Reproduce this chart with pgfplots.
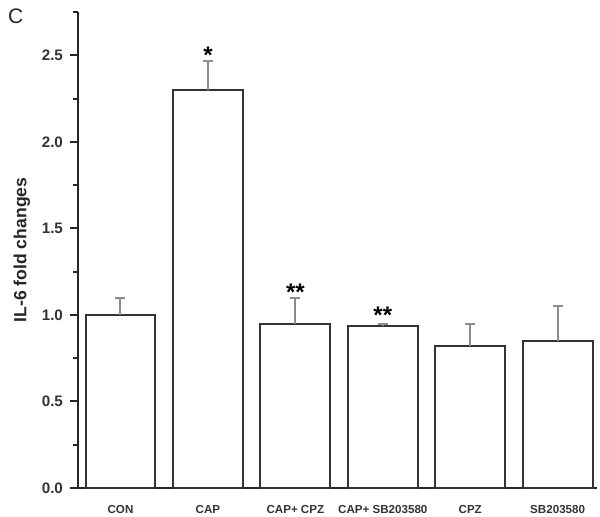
\documentclass[border=0pt]{standalone}
\usepackage{pgfplots}
\pgfplotsset{compat=1.18}
\usepackage{fontspec}
\setmainfont{Liberation Sans}
\begin{document}
\begin{tikzpicture}
\begin{axis}[
  at={(0,0)}, anchor=south west,
  scale only axis, width=259.5pt, height=238pt,
  xmin=-0.486, xmax=5.45, ymin=0, ymax=2.75,
  axis x line=bottom, axis y line=left,
  axis line style={line width=1.3pt, draw=black!85, -},
  xtick={0,1,2,3,4,5},
  xticklabels={CON,CAP,CAP+ CPZ,CAP+ SB203580,CPZ,SB203580},
  major x tick style={draw=none},
  x tick label style={font=\fontsize{5.8}{6}\selectfont\bfseries, color=black!80, yshift=-1pt},
  ytick={0,0.5,1,1.5,2,2.5},
  minor ytick={0.25,0.75,1.25,1.75,2.25,2.75},
  tick align=outside,
  major tick length=4pt, minor tick length=2.5pt,
  y tick style={line width=1pt, black!85},
  /pgf/number format/assume math mode=true,
  yticklabel style={/pgf/number format/fixed, /pgf/number format/fixed zerofill, /pgf/number format/precision=1, font=\fontsize{7.6}{8}\selectfont\bfseries, color=black!80},
  ylabel={IL-6 fold changes},
  ylabel style={font=\fontsize{8.8}{10}\selectfont\bfseries, color=black!85, yshift=-1pt},
  clip=false,
]
\addplot[ybar, bar width=0.8, fill=white, draw=black!80, line width=1pt,
  error bars/.cd, y dir=plus, y explicit,
  error bar style={line width=1pt, black!45},
  error mark options={rotate=90, mark size=2.5pt, line width=1pt, black!45}]
coordinates {
  (0,1.0) +- (0,0.10)
  (1,2.30) +- (0,0.165)
  (2,0.95) +- (0,0.145)
  (3,0.935) +- (0,0.015)
  (4,0.818) +- (0,0.13)
  (5,0.849) +- (0,0.20)
};
\node[font=\fontsize{12}{12}\selectfont\bfseries] at (axis cs:1,2.50) {*};
\node[font=\fontsize{12}{12}\selectfont\bfseries] at (axis cs:2,1.13) {**};
\node[font=\fontsize{12}{12}\selectfont\bfseries] at (axis cs:3,1.00) {**};
\end{axis}
\node[font=\fontsize{10.5}{11}\selectfont, anchor=north west, color=black!85] at (-38.5pt,243pt) {C};
\pgfresetboundingbox
\path[use as bounding box] (-39pt,-14pt) rectangle (261pt,244pt);
\end{tikzpicture}
\end{document}
